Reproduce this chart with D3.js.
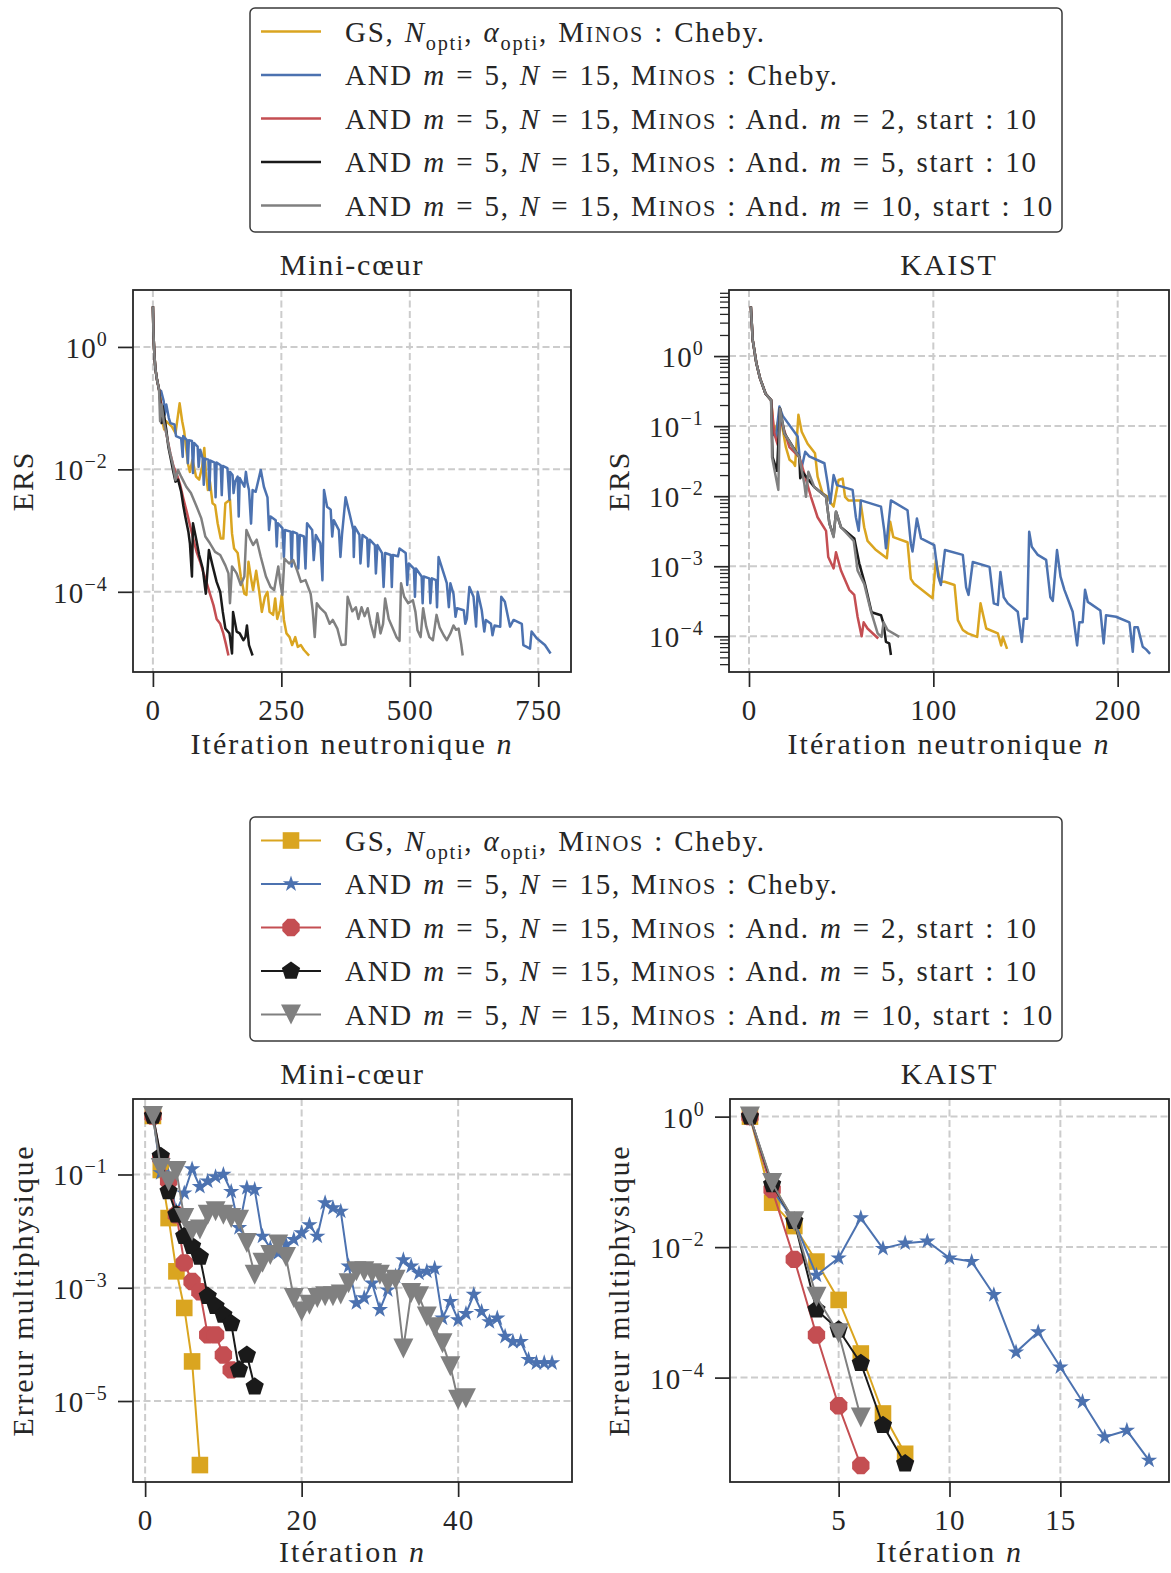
<!DOCTYPE html>
<html><head><meta charset="utf-8">
<script src="https://cdn.jsdelivr.net/npm/d3@7"></script>
<style>
body{margin:0;background:#fff;}
svg{display:block;}
text{font-family:"Liberation Serif","DejaVu Serif",serif;fill:#262626;letter-spacing:0.04em;}
</style></head><body>
<svg id="c" width="1171" height="1573"></svg>
<script>
// ---------------- DATA ----------------
const seriesNames = ["GS", "AND Cheby", "AND And m=2", "AND And m=5", "AND And m=10"];
const colors = ["#DAA520", "#4C72B0", "#C44E52", "#1A1A1A", "#808080"];
const markers = ["square", "star", "octagon", "pentagon", "triangleDown"];

const legendLabels = [
  [["GS, ","r"],["N","i"],["opti","sub"],[", ","r"],["α","i"],["opti","sub"],[", ","r"],["M","r"],["INOS","sc"],[" : Cheby.","r"]],
  [["AND ","r"],["m","i"],[" = 5, ","r"],["N","i"],[" = 15, ","r"],["M","r"],["INOS","sc"],[" : Cheby.","r"]],
  [["AND ","r"],["m","i"],[" = 5, ","r"],["N","i"],[" = 15, ","r"],["M","r"],["INOS","sc"],[" : And. ","r"],["m","i"],[" = 2, start : 10","r"]],
  [["AND ","r"],["m","i"],[" = 5, ","r"],["N","i"],[" = 15, ","r"],["M","r"],["INOS","sc"],[" : And. ","r"],["m","i"],[" = 5, start : 10","r"]],
  [["AND ","r"],["m","i"],[" = 5, ","r"],["N","i"],[" = 15, ","r"],["M","r"],["INOS","sc"],[" : And. ","r"],["m","i"],[" = 10, start : 10","r"]]
];

// Top-left: Mini-coeur, ERS vs neutron iteration
const tlStart = [[0,4.6],[1,1.7],[3,0.71],[5,0.43],[8,0.29],[12,0.2]];
const tlGS = tlStart.concat([[14,0.17],[19,0.058],[22,0.045],[26,0.061],[37,0.05],[44,0.039],[52,0.12],[57,0.061],[61,0.041],[66,0.018],[68,0.0126],[72,0.0091],[77,0.0144],[84,0.0076],[90,0.0068],[96,0.0112],[100,0.0224],[103,0.0091],[107,0.0046],[111,0.0063],[116,0.0028],[121,0.0026],[126,0.00132],[132,0.00074],[137,0.00074],[141,0.0028],[150,0.0032],[154,0.00089],[158,0.00051],[165,0.00043],[171,0.000178],[178,0.000093],[182,0.000089],[186,0.00031],[191,0.000166],[195,0.000107],[201,0.00022],[207,0.0001],[212,0.000047],[218,0.000083],[223,0.0001],[227,0.000047],[234,0.000042],[238,0.000078],[242,0.000036],[247,0.00005],[251,0.000089],[255,0.0000347],[260,0.0000209],[266,0.0000182],[271,0.0000135],[277,0.0000182],[282,0.0000126],[288,0.0000135],[294,0.0000112],[304,0.0000091]]);
const tlBlue = tlStart.concat([[16,0.19],[21,0.13],[23,0.078],[26,0.115],[31,0.069],[34,0.057],[42,0.054],[45,0.035],[55,0.032],[58,0.016],[59,0.035],[66,0.030],[68,0.0126],[70,0.030],[76,0.029],[78,0.0087],[80,0.027],[87,0.0235],[89,0.011],[92,0.021],[97,0.015],[99,0.0056],[101,0.015],[108,0.0144],[110,0.0046],[112,0.0139],[120,0.0129],[122,0.0035],[124,0.0129],[132,0.0117],[134,0.0038],[136,0.0114],[145,0.0105],[149,0.0032],[150,0.0091],[155,0.0081],[157,0.0041],[160,0.0063],[165,0.0076],[167,0.0017],[169,0.0072],[178,0.0052],[181,0.0091],[184,0.0059],[187,0.0046],[191,0.0013],[194,0.0046],[200,0.0043],[210,0.0098],[216,0.0052],[223,0.0035],[226,0.00102],[229,0.0017],[239,0.00148],[241,0.00055],[243,0.00132],[252,0.0011],[255,0.00037],[257,0.00102],[268,0.00096],[270,0.00026],[272,0.00096],[281,0.00089],[283,0.00024],[286,0.00085],[294,0.0008],[297,0.00024],[300,0.00132],[310,0.00102],[313,0.00033],[317,0.00085],[326,0.00062],[330,0.000155],[333,0.0046],[339,0.00245],[346,0.0022],[349,0.0008],[352,0.00148],[362,0.00102],[365,0.00037],[368,0.00085],[375,0.0035],[384,0.0017],[390,0.00102],[391,0.00037],[393,0.00115],[402,0.00085],[404,0.00029],[408,0.00085],[417,0.00074],[419,0.00026],[422,0.00071],[432,0.00058],[434,0.0002],[437,0.00058],[446,0.00043],[449,0.00012],[452,0.00043],[463,0.0004],[465,0.00012],[467,0.0004],[477,0.00038],[480,0.00051],[492,0.00043],[495,0.000129],[498,0.00029],[508,0.00024],[510,0.000083],[512,0.00024],[523,0.000178],[525,0.000065],[527,0.000178],[538,0.000166],[540,0.000065],[543,0.000166],[551,0.000155],[553,0.000056],[556,0.00037],[566,0.0002],[572,0.000138],[576,0.000056],[579,0.000138],[585,0.000093],[589,0.000039],[592,0.000054],[605,0.00005],[608,0.00003],[611,0.000036],[616,0.00012],[624,0.000083],[629,0.000027],[632,0.0001],[640,0.00005],[645,0.0000224],[648,0.0000347],[658,0.00003],[661,0.0000195],[665,0.0000282],[676,0.0000269],[678,0.000083],[685,0.000069],[691,0.000039],[695,0.000027],[702,0.0000347],[718,0.00003],[721,0.0000135],[734,0.0000118],[737,0.0000224],[747,0.0000174],[763,0.0000135],[774,0.0000098]]);
const tlRed = tlStart.concat([[14,0.14],[18,0.1],[22,0.06],[26,0.039],[34,0.018],[40,0.0112],[47,0.0081],[53,0.0056],[59,0.0034],[66,0.002],[72,0.00123],[79,0.00071],[85,0.00045],[92,0.00031],[98,0.00021],[105,0.000138],[111,0.000093],[118,0.00006],[124,0.000036],[131,0.00003],[137,0.0000209],[142,0.0000141],[147,0.0000091]]);
const tlBlack = tlStart.concat([[14,0.138],[17,0.057],[19,0.107],[26,0.045],[30,0.0235],[34,0.016],[39,0.0098],[44,0.0063],[49,0.0068],[55,0.0043],[59,0.0026],[63,0.0017],[69,0.00096],[72,0.00062],[76,0.000178],[78,0.00132],[84,0.00074],[90,0.0004],[97,0.00024],[103,0.000093],[109,0.00048],[116,0.00027],[124,0.000145],[131,0.0001],[136,0.000047],[141,0.0000251],[149,0.0000209],[154,0.0000098],[156,0.000047],[163,0.0000224],[169,0.0000209],[176,0.0000162],[180,0.0000182],[183,0.0000282],[187,0.0000135],[194,0.0000091]]);
const tlGray = tlStart.concat([[14,0.061],[17,0.115],[21,0.061],[26,0.039],[32,0.021],[39,0.0118],[44,0.0067],[49,0.0098],[55,0.0076],[65,0.0052],[74,0.0041],[84,0.0026],[94,0.0016],[102,0.0008],[111,0.00062],[121,0.00045],[131,0.0004],[141,0.00027],[147,0.0002],[150,0.000065],[154,0.00026],[163,0.0002],[171,0.000129],[178,0.000178],[182,0.00102],[189,0.00074],[195,0.00058],[202,0.00071],[210,0.00037],[220,0.000178],[229,0.00012],[236,0.000107],[244,0.00026],[248,0.000138],[252,0.000089],[256,0.00035],[265,0.00029],[273,0.00033],[281,0.00022],[288,0.000145],[297,0.000155],[307,0.000093],[311,0.00005],[315,0.0000182],[319,0.000065],[326,0.000054],[336,0.0000447],[344,0.00003],[350,0.0000347],[359,0.0000251],[367,0.0000135],[375,0.0000138],[379,0.000083],[388,0.000048],[395,0.000056],[400,0.000036],[406,0.000056],[412,0.00004],[418,0.000054],[424,0.00003],[431,0.0000182],[437,0.0000447],[443,0.0000209],[448,0.00003],[452,0.000078],[459,0.000036],[467,0.0000251],[474,0.0000182],[480,0.0000158],[483,0.000138],[489,0.000083],[497,0.000065],[506,0.000073],[511,0.000047],[515,0.0000235],[521,0.0000182],[526,0.000054],[532,0.0000269],[538,0.0000182],[545,0.0000162],[552,0.000042],[558,0.0000263],[566,0.0000195],[572,0.0000162],[579,0.0000209],[585,0.0000282],[590,0.000024],[595,0.0000251],[600,0.0000141],[603,0.0000091]]);

// Top-right: KAIST, ERS vs neutron iteration
const trStart = [[1,5.1],[2,1.7],[4,0.79],[6,0.48],[9,0.29],[12,0.235]];
const trGS = trStart.concat([[13.5,0.08],[16,0.12],[18,0.1],[20,0.05],[22,0.033],[24,0.03],[25,0.027],[26.8,0.145],[28.6,0.083],[31.8,0.056],[35.8,0.041],[37.2,0.019],[39.9,0.011],[42.7,0.0098],[44.5,0.0079],[45.9,0.0071],[48.6,0.017],[50.8,0.0178],[52.1,0.0098],[53.9,0.0087],[60.4,0.0087],[62.5,0.0036],[64.3,0.0023],[68.9,0.0017],[74.8,0.0013],[76.6,0.0043],[78.3,0.0026],[86,0.0022],[87.8,0.00066],[89.6,0.00056],[99.6,0.00035],[101.4,0.00123],[103.7,0.0006],[106.1,0.0006],[111.5,0.00054],[113.3,0.00017],[116,0.000123],[118.7,0.00011],[123.8,0.000098],[125.6,0.000295],[128.7,0.000129],[135,0.00011],[136.8,0.000074],[137.7,0.000098],[140,0.000066]]);
const trBlue = trStart.concat([[12.8,0.079],[14.6,0.07],[16.5,0.19],[18.3,0.14],[26.4,0.071],[28.2,0.023],[30.5,0.043],[32.7,0.037],[40.9,0.0295],[42.7,0.015],[44.1,0.0079],[45.9,0.02],[47.7,0.0144],[56.2,0.0123],[58,0.005],[59.5,0.0032],[60.7,0.0087],[71.6,0.0071],[73.4,0.0032],[74.3,0.0018],[77,0.0087],[86,0.0063],[87.8,0.0021],[88.7,0.00162],[91.1,0.0048],[93.3,0.0025],[100.5,0.002],[102.7,0.00071],[104.1,0.00054],[106.3,0.0017],[116,0.00145],[117.8,0.0005],[119.1,0.00039],[121.4,0.00115],[130.5,0.00098],[132.8,0.000295],[135,0.00028],[136.4,0.00083],[138.2,0.00036],[140.4,0.000295],[145.8,0.000224],[148,0.000083],[149.1,0.000178],[150.9,0.000178],[152,0.0031],[153.4,0.0019],[156.7,0.00145],[161.2,0.00123],[163.5,0.00036],[164.8,0.00032],[167.1,0.0017],[169,0.00071],[171.1,0.00046],[175.6,0.000224],[178,0.000074],[179.2,0.000158],[181,0.000158],[182.3,0.00046],[183.8,0.00031],[190.6,0.000234],[192.4,0.000079],[193.7,0.0002],[199.1,0.00019],[206.4,0.000158],[208.2,0.00006],[209.1,0.000135],[210.9,0.000135],[213.6,0.000071],[215.4,0.000065],[217.6,0.000056]]);
const trRed = trStart.concat([[13.7,0.079],[15.6,0.054],[17.4,0.123],[21.9,0.05],[27.3,0.036],[30,0.021],[33.6,0.0098],[37.2,0.005],[41.8,0.0032],[43,0.00135],[45.9,0.00093],[47.2,0.00158],[49.9,0.00087],[54.4,0.00046],[57.1,0.00039],[58.9,0.00019],[61.1,0.0001],[62.2,0.000158],[64.3,0.000129],[70.1,0.000093]]);
const trBlack = trStart.concat([[12.8,0.036],[15.2,0.023],[16.8,0.18],[19.2,0.079],[27.3,0.036],[27.8,0.018],[29.1,0.022],[35.4,0.0135],[41.8,0.0098],[43.6,0.0041],[45.9,0.0027],[47.2,0.006],[49.9,0.0036],[57.1,0.0025],[59.8,0.0011],[62.9,0.00056],[66.5,0.00022],[71.6,0.0002],[73,0.00015],[74.3,0.000083],[76.1,0.000079],[77,0.000054]]);
const trGray = trStart.concat([[12.5,0.036],[15.9,0.0123],[16.8,0.178],[19.2,0.079],[24.6,0.046],[27.3,0.036],[30,0.015],[30.9,0.0098],[32.2,0.0224],[35.4,0.0135],[41.8,0.0098],[43.6,0.0041],[45.9,0.0026],[47.2,0.006],[49.9,0.0036],[56.8,0.0023],[58.9,0.00087],[62.5,0.00056],[66.1,0.00023],[69.8,0.00011],[71.9,0.000098],[73,0.000158],[75.2,0.000123],[81.5,0.000098]]);

// Bottom-left: Mini-coeur, multiphysics error per iteration n = 1, 2, ...
const blGS = [1.08, 0.12, 0.017, 0.00195, 0.00044, 0.00005, 7.4e-7];
const blBlue = [1.08, 0.107, 0.093, 0.0224, 0.047, 0.125, 0.061, 0.076, 0.091, 0.1, 0.05, 0.0115, 0.058, 0.054, 0.0081, 0.005, 0.0041, 0.0058, 0.0071, 0.0093, 0.0129, 0.0081, 0.0316, 0.0257, 0.0224, 0.0024, 0.00054, 0.00066, 0.0012, 0.00041, 0.00091, 0.0016, 0.0031, 0.0024, 0.0018, 0.00195, 0.0022, 0.00029, 0.00057, 0.00027, 0.00035, 0.00076, 0.00038, 0.00025, 0.00029, 0.000138, 0.000112, 0.000112, 0.000054, 0.000047, 0.000047, 0.000047];
const blRed = [1.08, 0.195, 0.076, 0.0195, 0.00275, 0.00129, 0.00085, 0.000147, 0.000147, 0.000065, 0.0000355];
const blBlack = [1.08, 0.21, 0.05, 0.0195, 0.0081, 0.0054, 0.0035, 0.00071, 0.00047, 0.00033, 0.000234, 0.0000355, 0.000065, 0.0000178];
const blGray = [1.08, 0.13, 0.076, 0.115, 0.017, 0.01, 0.0107, 0.0195, 0.0224, 0.0195, 0.017, 0.0158, 0.0062, 0.0017, 0.00275, 0.0038, 0.0058, 0.0035, 0.00066, 0.00038, 0.0005, 0.00066, 0.00071, 0.00071, 0.00076, 0.0012, 0.00195, 0.00195, 0.0018, 0.0017, 0.0012, 0.00138, 0.000085, 0.00081, 0.00071, 0.00031, 0.0002, 0.000105, 0.000041, 0.0000105, 0.0000112];

// Bottom-right: KAIST, multiphysics error per iteration n = 1, 2, ...
const brGS = [1.0, 0.048, 0.021, 0.006, 0.00155, 0.000234, 0.0000282, 0.0000068];
const brBlue = [1.0, 0.076, 0.025, 0.0037, 0.0068, 0.028, 0.0095, 0.0115, 0.0123, 0.0068, 0.006, 0.00186, 0.000245, 0.0005, 0.000145, 0.0000427, 0.0000123, 0.0000155, 0.0000054];
const brRed = [1.0, 0.076, 0.0065, 0.00045, 0.000037, 0.0000045];
const brBlack = [1.0, 0.091, 0.025, 0.0011, 0.00054, 0.000166, 0.0000186, 0.0000048];
const brGray = [1.0, 0.096, 0.025, 0.00174, 0.00048, 0.0000245];

// Tick values
const tlXTicks = [0, 250, 500, 750];
const tlYTicks = [1, 1e-2, 1e-4];
const trXTicks = [0, 100, 200];
const trYTicks = [1, 1e-1, 1e-2, 1e-3, 1e-4];
const blXTicks = [0, 20, 40];
const blYTicks = [1e-1, 1e-3, 1e-5];
const brXTicks = [5, 10, 15];
const brYTicks = [1, 1e-2, 1e-4];

const titles = ["Mini-cœur", "KAIST"];

// ---------------- DRAWING ----------------
const svg = d3.select("#c");
const INK = "#262626";

function mathText(sel, segs, size) {
  let off = 0;
  segs.forEach(([t, s]) => {
    const ts = sel.append("tspan").text(t);
    let target = 0, fs = size;
    if (s === "i") ts.attr("font-style", "italic");
    if (s === "sub") { target = 0.28 * size; fs = 0.7 * size; }
    if (s === "sc") { fs = 0.76 * size; }
    ts.attr("font-size", fs);
    if (target !== off) { ts.attr("dy", target - off); off = target; }
  });
}

function markerPath(type) {
  const p = d3.path();
  if (type === "square") { const h = 8.3; p.rect(-h, -h, 2*h, 2*h); }
  else if (type === "star") {
    const R = 8.6, r = R * 0.382;
    for (let k = 0; k < 10; k++) {
      const a = -Math.PI/2 + k * Math.PI/5, rr = k % 2 ? r : R;
      k ? p.lineTo(rr*Math.cos(a), rr*Math.sin(a)) : p.moveTo(rr*Math.cos(a), rr*Math.sin(a));
    }
    p.closePath();
  } else if (type === "octagon") {
    const R = 9.4;
    for (let k = 0; k < 8; k++) {
      const a = Math.PI/8 + k * Math.PI/4;
      k ? p.lineTo(R*Math.cos(a), R*Math.sin(a)) : p.moveTo(R*Math.cos(a), R*Math.sin(a));
    }
    p.closePath();
  } else if (type === "pentagon") {
    const R = 9.6;
    for (let k = 0; k < 5; k++) {
      const a = -Math.PI/2 + k * 2*Math.PI/5;
      k ? p.lineTo(R*Math.cos(a), R*Math.sin(a)) : p.moveTo(R*Math.cos(a), R*Math.sin(a));
    }
    p.closePath();
  } else if (type === "triangleDown") {
    const r = 10;
    p.moveTo(0, r); p.lineTo(-r, -r); p.lineTo(r, -r); p.closePath();
  }
  return p.toString();
}

let clipId = 0;
function drawPanel(p) {
  const g = svg.append("g");
  const x = d3.scaleLinear().domain(p.xDomain).range([p.left, p.right]);
  const y = d3.scaleLog().domain(p.yDomain).range([p.top, p.bottom]);

  const grid = g.append("g").attr("stroke", "#cccccc").attr("stroke-width", 2).attr("stroke-dasharray", "7,3.5");
  p.xTicks.forEach(t => grid.append("line").attr("x1", x(t)).attr("x2", x(t)).attr("y1", p.top).attr("y2", p.bottom));
  p.yTicks.forEach(t => grid.append("line").attr("y1", y(t)).attr("y2", y(t)).attr("x1", p.left).attr("x2", p.right));

  const id = "clip" + (clipId++);
  svg.append("clipPath").attr("id", id).append("rect")
    .attr("x", p.left).attr("y", p.top).attr("width", p.right - p.left).attr("height", p.bottom - p.top);
  const plot = g.append("g").attr("clip-path", `url(#${id})`);
  const line = d3.line().x(d => x(d[0])).y(d => y(d[1]));
  p.series.forEach((data, i) => {
    plot.append("path").datum(data).attr("d", line).attr("fill", "none")
      .attr("stroke", colors[i]).attr("stroke-width", p.lw).attr("stroke-linejoin", "round");
    if (p.markers) {
      plot.append("g").selectAll("path").data(data).join("path")
        .attr("transform", d => `translate(${x(d[0])},${y(d[1])})`)
        .attr("d", markerPath(markers[i])).attr("fill", colors[i]);
    }
  });

  g.append("rect").attr("x", p.left).attr("y", p.top).attr("width", p.right - p.left).attr("height", p.bottom - p.top)
    .attr("fill", "none").attr("stroke", INK).attr("stroke-width", 1.8);

  const xa = g.append("g").attr("transform", `translate(0,${p.bottom})`)
    .call(d3.axisBottom(x).tickValues(p.xTicks).tickSizeInner(15).tickSizeOuter(0).tickPadding(12).tickFormat(d3.format("d")));
  xa.select(".domain").remove();
  xa.attr("font-family", null).attr("font-size", 29);
  xa.selectAll("line").attr("stroke", INK).attr("stroke-width", 1.7);
  xa.selectAll("text").attr("fill", INK);

  if (p.minor) {
    const minors = [];
    for (let e = -6; e <= 1; e++) for (let k = 2; k <= 9; k++) {
      const v = k * Math.pow(10, e);
      if (v > p.yDomain[1] && v < p.yDomain[0]) minors.push(v);
    }
    const ma = g.append("g").attr("transform", `translate(${p.left},0)`)
      .call(d3.axisLeft(y).tickValues(minors).tickSizeInner(9).tickSizeOuter(0).tickFormat(""));
    ma.select(".domain").remove();
    ma.selectAll("line").attr("stroke", INK).attr("stroke-width", 1.3);
  }
  const ya = g.append("g").attr("transform", `translate(${p.left},0)`)
    .call(d3.axisLeft(y).tickValues(p.yTicks).tickSizeInner(15).tickSizeOuter(0).tickPadding(10).tickFormat(""));
  ya.select(".domain").remove();
  ya.attr("font-family", null).attr("font-size", 29);
  ya.selectAll("line").attr("stroke", INK).attr("stroke-width", 1.7);
  ya.selectAll(".tick text").each(function(d) {
    const t = d3.select(this).attr("dy", "0.36em").attr("fill", INK);
    const e = Math.round(Math.log10(d));
    t.append("tspan").text("10");
    t.append("tspan").attr("dy", -12).attr("font-size", 20).text(e < 0 ? "−" + (-e) : String(e));
  });

  // title
  g.append("text").attr("x", (p.left + p.right) / 2).attr("y", p.top - 15).attr("text-anchor", "middle")
    .attr("font-size", 30).style("letter-spacing", "0.06em").text(p.title);
  // x label
  const xl = g.append("text").attr("x", (p.left + p.right) / 2).attr("y", p.xLabelY).attr("text-anchor", "middle")
    .attr("font-size", 30).style("letter-spacing", "0.07em");
  mathText(xl, p.xLabel, 30);
  // y label
  g.append("text").attr("transform", `translate(${p.yLabelX},${(p.top + p.bottom) / 2}) rotate(-90)`)
    .attr("text-anchor", "middle").attr("font-size", 30).style("letter-spacing", "0.06em").text(p.yLabel);
}

const toPairs = arr => arr.map((v, i) => [i + 1, v]);

drawPanel({ left: 133, right: 571, top: 290, bottom: 672, xDomain: [-38.75, 813.75], yDomain: [Math.pow(10, 0.93), Math.pow(10, -5.31)],
  xTicks: tlXTicks, yTicks: tlYTicks, series: [tlGS, tlBlue, tlRed, tlBlack, tlGray], lw: 2.5, markers: false,
  title: titles[0], xLabel: [["Itération neutronique ","r"],["n","i"]], xLabelY: 754, yLabel: "ERS", yLabelX: 33 });
drawPanel({ left: 729, right: 1169, top: 290, bottom: 672, xDomain: [-10.85, 227.85], yDomain: [Math.pow(10, 0.943), Math.pow(10, -4.51)],
  xTicks: trXTicks, yTicks: trYTicks, series: [trGS, trBlue, trRed, trBlack, trGray], lw: 2.5, markers: false, minor: true,
  title: titles[1], xLabel: [["Itération neutronique ","r"],["n","i"]], xLabelY: 754, yLabel: "ERS", yLabelX: 629 });
drawPanel({ left: 133, right: 572, top: 1099, bottom: 1482, xDomain: [-1.55, 54.55], yDomain: [Math.pow(10, 0.333), Math.pow(10, -6.43)],
  xTicks: blXTicks, yTicks: blYTicks, series: [blGS, blBlue, blRed, blBlack, blGray].map(toPairs), lw: 2, markers: true,
  title: titles[0], xLabel: [["Itération ","r"],["n","i"]], xLabelY: 1562, yLabel: "Erreur multiphysique", yLabelX: 33 });
drawPanel({ left: 730, right: 1169, top: 1099, bottom: 1482, xDomain: [0.1, 19.9], yDomain: [Math.pow(10, 0.27), Math.pow(10, -5.6)],
  xTicks: brXTicks, yTicks: brYTicks, series: [brGS, brBlue, brRed, brBlack, brGray].map(toPairs), lw: 2, markers: true,
  title: titles[1], xLabel: [["Itération ","r"],["n","i"]], xLabelY: 1562, yLabel: "Erreur multiphysique", yLabelX: 629 });

function drawLegend(top, withMarkers) {
  const g = svg.append("g");
  g.append("rect").attr("x", 250).attr("y", top).attr("width", 812).attr("height", 224).attr("rx", 5)
    .attr("fill", "#fff").attr("stroke", "#3a3a3a").attr("stroke-width", 1.5);
  seriesNames.forEach((name, i) => {
    const ly = top + 23.5 + i * 43.5;
    g.append("line").attr("x1", 261).attr("x2", 321).attr("y1", ly).attr("y2", ly)
      .attr("stroke", colors[i]).attr("stroke-width", withMarkers ? 2 : 2.5);
    if (withMarkers) g.append("path").attr("transform", `translate(291,${ly})`).attr("d", markerPath(markers[i])).attr("fill", colors[i]);
    const t = g.append("text").attr("x", 345).attr("y", ly + 10).attr("font-size", 29)
      .style("letter-spacing", "0.06em").style("word-spacing", "1.2px");
    mathText(t, legendLabels[i], 29);
  });
}
drawLegend(8, false);
drawLegend(817, true);
</script>
</body></html>
